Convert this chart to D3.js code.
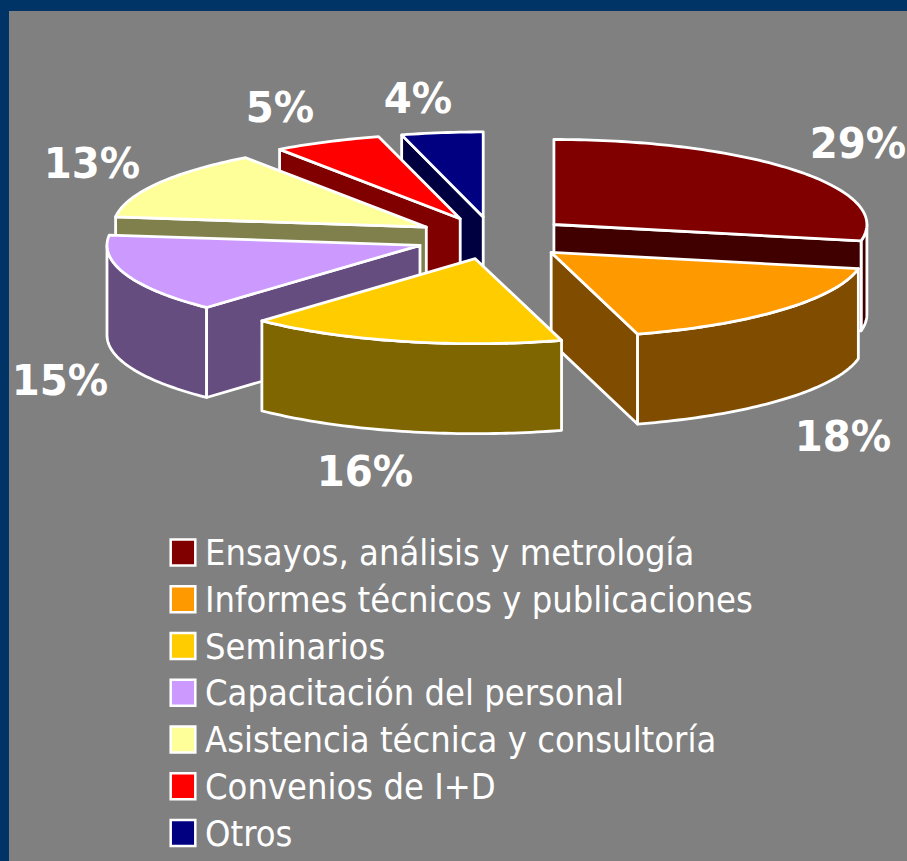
<!DOCTYPE html>
<html>
<head>
<meta charset="utf-8">
<script src="https://cdn.jsdelivr.net/npm/d3@7"></script>
<style>
html,body{margin:0;padding:0;background:#003366;overflow:hidden}
svg{display:block}
</style>
</head>
<body>
<svg id="chart" width="907" height="861"></svg>
<script>
// ---- data ----
const categories = ["Ensayos, análisis y metrología","Informes técnicos y publicaciones","Seminarios","Capacitación del personal","Asistencia técnica y consultoría","Convenios de I+D","Otros"];
const shares = [28.1,17.5,16.4,15.0,13.3,5.6,4.2];
const percentLabels = ["29%","18%","16%","15%","13%","5%","4%"];
const topColors = ["#800000","#ff9900","#ffcc00","#cc99ff","#ffff99","#ff0000","#000080"];
const wallColors = ["#400000","#804d00","#806600","#664d80","#80804d","#800000","#000040"];

// ---- layout ----
const W = 907, H = 861;
const cx = 493.5, cy = 238, rx = 313, ry = 85, depth = 90, explode = 0.25;
const sx = d3.scaleLinear().domain([-1,1]).range([cx-rx,cx+rx]);
const sy = d3.scaleLinear().domain([-1,1]).range([cy-ry,cy+ry]);
const labelXY = [[858,143],[843,436],[365,471],[60,380],[92,163],[280,107],[418,98]];

const svg = d3.select("#chart");
svg.append("rect").attr("width",W).attr("height",H).attr("fill","#003366");
svg.append("rect").attr("x",9).attr("y",11).attr("width",W-9).attr("height",H-11).attr("fill","#808080");

const arcs = d3.pie().sort(null).value(d=>d)(shares).map((a,i)=>{
  const mid = (a.startAngle+a.endAngle)/2;
  return {i, a0:a.startAngle, a1:a.endAngle, mid,
          ox:explode*Math.sin(mid), oy:-explode*Math.cos(mid)};
});
const pt = (s,t,dz=0)=>[sx(s.ox+Math.sin(t)), sy(s.oy-Math.cos(t))+dz];
const apex = (s,dz=0)=>[sx(s.ox), sy(s.oy)+dz];
const sample = (a,b)=>{const n=Math.max(2,Math.ceil((b-a)/0.02));return d3.range(n+1).map(k=>a+(b-a)*k/n);};
const line = d3.line();
const closed = pts=>line(pts)+"Z";

const order = arcs.slice().sort((p,q)=>Math.cos(q.mid)-Math.cos(p.mid));
const g = svg.append("g").attr("stroke","#fff").attr("stroke-width",2.8).attr("stroke-linejoin","round");
const PI = Math.PI;
order.forEach(s=>{
  const wall = wallColors[s.i], top = topColors[s.i];
  const face = (pts,fill)=>g.append("path").attr("d",closed(pts)).attr("fill",fill);
  // outer wall: only the part of the rim turned toward the viewer
  const lo = Math.max(s.a0,PI/2), hi = Math.min(s.a1,3*PI/2);
  if (hi>lo){
    const ts = sample(lo,hi);
    face(ts.map(t=>pt(s,t)).concat(ts.slice().reverse().map(t=>pt(s,t,depth))),wall);
  }
  // radial cut faces
  if (Math.sin(s.a0)<-1e-6) face([apex(s),pt(s,s.a0),pt(s,s.a0,depth),apex(s,depth)],wall);
  if (Math.sin(s.a1)> 1e-6) face([apex(s),pt(s,s.a1),pt(s,s.a1,depth),apex(s,depth)],wall);
  // top
  face([apex(s)].concat(sample(s.a0,s.a1).map(t=>pt(s,t))),top);
});

// percent labels
percentLabels.forEach((t,i)=>{
  svg.append("text")
    .attr("transform",`translate(${labelXY[i][0]},${labelXY[i][1]+15}) scale(0.96,1)`)
    .attr("text-anchor","middle").attr("font-family","'DejaVu Sans',sans-serif")
    .attr("font-weight","bold").attr("font-size",42).attr("fill","#fff").text(t);
});

// legend
const rowY = d3.scaleLinear().domain([0,6]).range([552.5,833]);
const leg = svg.append("g");
categories.forEach((c,i)=>{
  leg.append("rect").attr("x",170.7).attr("y",rowY(i)-13).attr("width",24.6).attr("height",26)
    .attr("fill",topColors[i]).attr("stroke","#fff").attr("stroke-width",2.5);
  leg.append("text").attr("transform",`translate(205,${rowY(i)+12.5}) scale(0.925,1)`)
    .attr("font-family","'DejaVu Sans',sans-serif").attr("font-size",35).attr("fill","#fff").text(c);
});
</script>
</body>
</html>
